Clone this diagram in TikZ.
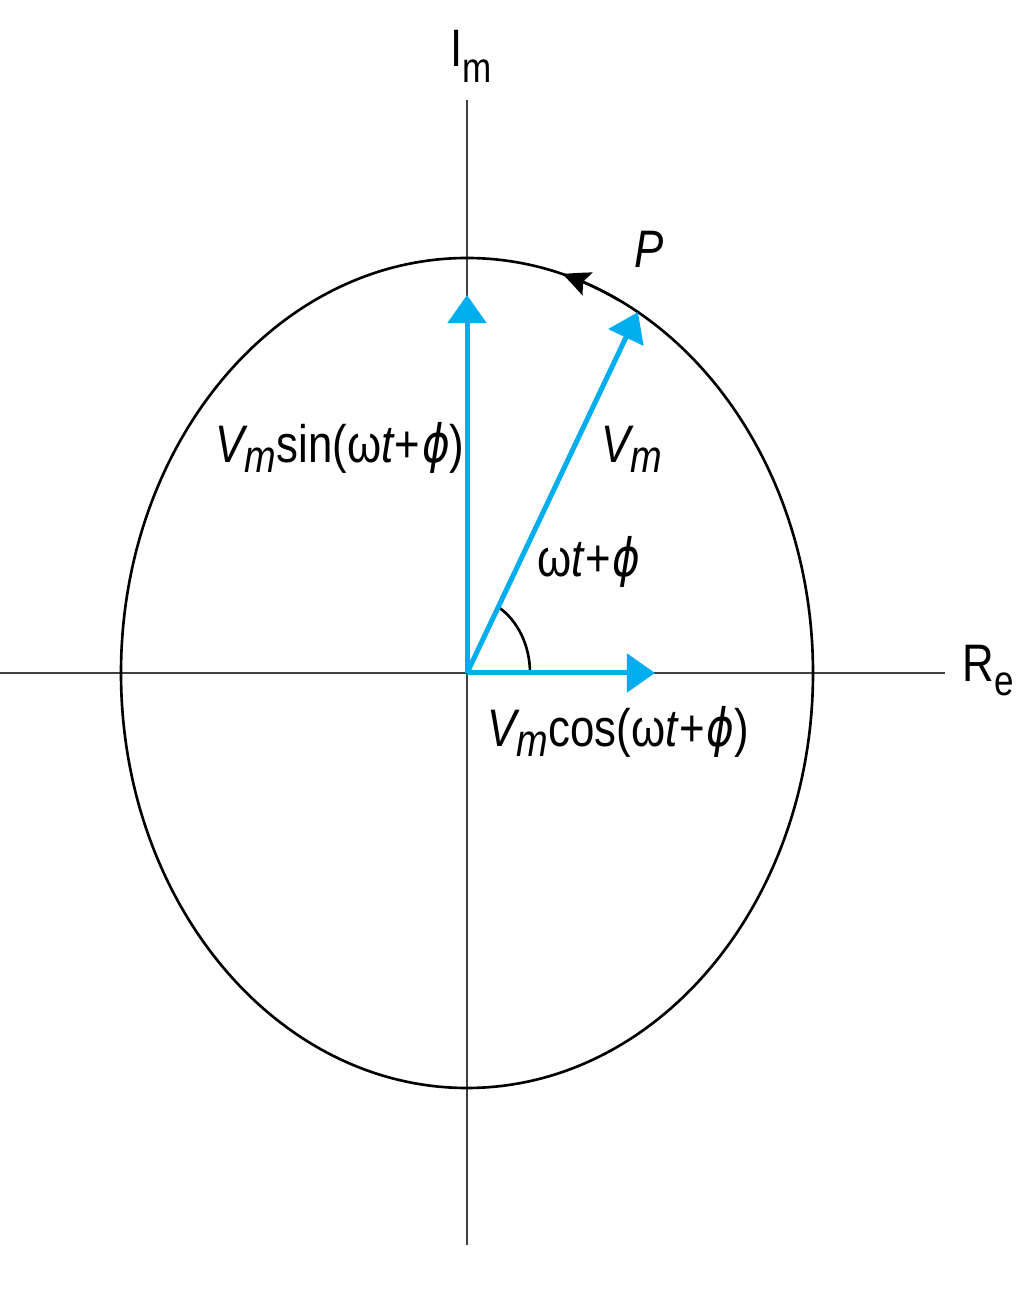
\documentclass[tikz,border=0pt]{standalone}
\usepackage{fontspec}
\setmainfont{Liberation Sans}[FakeStretch=0.83]
\newfontfamily\grk{DejaVu Sans}[FakeStretch=0.8]
\usetikzlibrary{arrows.meta,bending}
\definecolor{phasor}{RGB}{0,174,239}
\newcommand\lowsub[3]{\raisebox{#1}{\fontsize{#2}{#2}\selectfont #3}}
\newcommand\phichar{{\grk\itshape ϕ}}
\newcommand\phasearg{(ω{\itshape t}\kern0.03em+\kern0.03em\phichar)}
\begin{document}
\begin{tikzpicture}[x=0.01cm,y=0.01cm,
  font=\fontsize{15}{18}\selectfont,
  lbl/.style={inner sep=0pt,anchor=base west},
  axisline/.style={draw=black!75,line width=0.85pt},
  curve/.style={draw=black,line width=0.75pt},
  phasorarrow/.style={draw=phasor,line width=0.05cm,-{Triangle[length=0.28cm,width=0.38cm]}}]
\useasboundingbox (0,0) rectangle (1024,1296);
\coordinate (O) at (467,623);
\coordinate (Xl) at (0,623);
\coordinate (Xr) at (945,623);
\coordinate (Yt) at (467,1196);
\coordinate (Yb) at (467,51);
\draw[axisline] (Xl) -- (Xr);
\draw[axisline] (Yb) -- (Yt);
\draw[curve] (O) ellipse[x radius=346, y radius=415];
\coordinate (Htip) at (655,623);
\coordinate (Vtip) at (467,1001);
\path (O) ++(60.4:346 and 415) coordinate (Dtip);
\path (O) ++(63,0) coordinate (A0);
\draw[curve] (A0) arc[start angle=0,end angle=60.4,x radius=63,y radius=76];
\path (O) ++(64:346 and 415) coordinate (Ps);
\draw[curve,-{Stealth[length=0.27cm,width=0.25cm,inset=0.05cm,bend]}] (Ps) arc[start angle=64,end angle=74,x radius=346,y radius=415];
\draw[phasorarrow] (O) -- (Htip);
\draw[phasorarrow] (O) -- (Vtip);
\draw[phasorarrow] (O) -- (Dtip);
\node[lbl] (Im) at (450,1229) {I\lowsub{-0.3em}{12}{m}};
\node[lbl] (Re) at (962,614) {R\lowsub{-0.25em}{12}{e}};
\node[lbl] (P) at (634,1028) {\itshape P};
\node[lbl] (sinlbl) at (215,833) {{\itshape V}\lowsub{-0.18em}{13}{\itshape m}sin\phasearg};
\node[lbl] (Vm) at (601,833) {{\itshape V}\lowsub{-0.18em}{13}{\itshape m}};
\node[lbl] (ang) at (537,719) {ω{\itshape t}\kern0.03em+\kern0.03em\phichar};
\node[lbl] (coslbl) at (487,549) {{\itshape V}\lowsub{-0.18em}{13}{\itshape m}cos\phasearg};
\end{tikzpicture}
\end{document}
